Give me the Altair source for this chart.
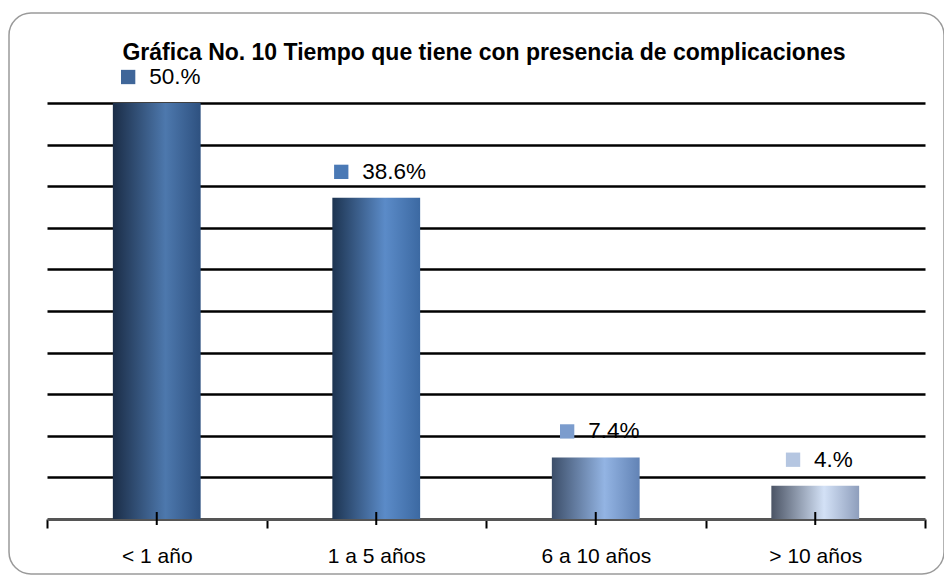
import altair as alt
import pandas as pd

# ---- data ----
categories = ["< 1 año", "1 a 5 años", "6 a 10 años", "> 10 años"]
values = [50.0, 38.6, 7.4, 4.0]
labels = ["50.%", "38.6%", "7.4%", "4.%"]
title_text = "Gráfica No. 10 Tiempo que tiene con presencia de complicaciones"

# ---- styles ----
square_colors = ["#3f6699", "#4a79b5", "#7b9ccd", "#b5c6e1"]
bar_gradients = [
    ["#1b2d47", "#4d78ad", "#2e5180"],
    ["#1d3451", "#5b8bc8", "#3c69a2"],
    ["#3c4e69", "#93b4e3", "#6283b5"],
    ["#4b5465", "#d3e1f6", "#8e9ebc"],
]
grid_values = [5, 10, 15, 20, 25, 30, 35, 40, 45, 50]

W, H = 878, 416
FONT = "Liberation Sans"

df = pd.DataFrame({"cat": categories, "val": values, "lab": labels})

x_enc = alt.X(
    "cat:N",
    sort=categories,
    title=None,
    scale=alt.Scale(paddingInner=0, paddingOuter=0),
    axis=alt.Axis(
        labelAngle=0,
        labelFont=FONT,
        labelFontSize=21,
        labelColor="black",
        labelPadding=17,
        tickBand="extent",
        tickSize=9,
        tickColor="black",
        tickWidth=2,
        domainColor="#555555",
        domainWidth=3,
        grid=False,
    ),
)
y_enc = alt.Y(
    "val:Q",
    title=None,
    scale=alt.Scale(domain=[0, 50], nice=False, zero=True),
    axis=alt.Axis(
        values=grid_values,
        grid=True,
        gridColor="black",
        gridWidth=2.5,
        labels=False,
        ticks=False,
        domain=False,
    ),
)

base = alt.Chart(df).transform_calculate(
    off="-(12.8*length(datum.lab)+28)/2 + 4"
)

one = pd.DataFrame({"t": [title_text]})

frame = alt.Chart(one).mark_rect(
    cornerRadius=22, fill="white", fillOpacity=0, stroke="#9a9a9a", strokeWidth=1.5
).encode(
    x=alt.value(-38), x2=alt.value(897), y=alt.value(-90), y2=alt.value(471)
)

title_mark = alt.Chart(one).mark_text(
    font=FONT, fontSize=23, fontWeight="bold", color="black",
    align="center", baseline="alphabetic",
).encode(
    x=alt.value(W / 2 - 2), y=alt.value(-43), text="t:N"
)

bar_layers = []
for cat, stops in zip(categories, bar_gradients):
    grad = alt.Gradient(
        gradient="linear",
        x1=0, x2=1, y1=0, y2=0,
        stops=[
            alt.GradientStop(color=stops[0], offset=0),
            alt.GradientStop(color=stops[1], offset=0.6),
            alt.GradientStop(color=stops[2], offset=1),
        ],
    )
    bar_layers.append(
        base.transform_filter(alt.datum.cat == cat)
        .mark_bar(color=grad, width={"band": 0.4})
        .encode(x=x_enc, y=y_enc)
    )

center_ticks = base.mark_rule(color="black", strokeWidth=2).encode(
    x=alt.X("cat:N", sort=categories),
    y=alt.value(H - 7),
    y2=alt.value(H + 6),
)

squares = base.mark_square(
    size=205, opacity=1, xOffset={"expr": "datum.off + 7"}, yOffset=-26
).encode(
    x=alt.X("cat:N", sort=categories),
    y=alt.Y("val:Q"),
    color=alt.Color("cat:N", scale=alt.Scale(domain=categories, range=square_colors), legend=None),
)

texts = base.mark_text(
    align="left", baseline="middle", font=FONT, fontSize=22.5, color="black",
    xOffset={"expr": "datum.off + 28"}, yOffset=-26,
).encode(
    x=alt.X("cat:N", sort=categories),
    y=alt.Y("val:Q"),
    text="lab:N",
)

chart = alt.layer(frame, title_mark, *bar_layers, center_ticks, squares, texts).properties(
    width=W,
    height=H,
    autosize=alt.AutoSizeParams(type="none"),
    padding={"left": 39, "top": 95, "right": 19, "bottom": 56},
    background="white",
).configure_view(stroke=None)

chart.save("out.html", embed_options={"renderer": "svg", "actions": False})
